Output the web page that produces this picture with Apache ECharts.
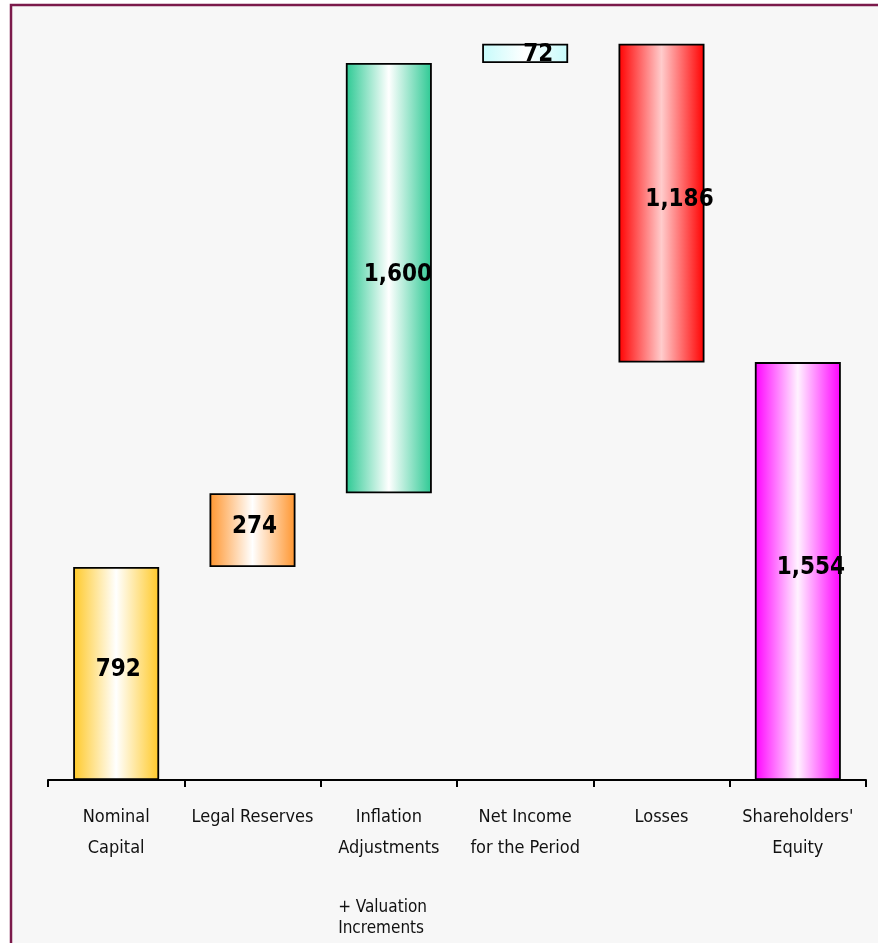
<!DOCTYPE html>
<html>
<head>
<meta charset="utf-8">
<script src="https://cdn.jsdelivr.net/npm/echarts@6/dist/echarts.min.js"></script>
<style>
  html, body { margin: 0; padding: 0; background: #ffffff; }
  #chart { width: 878px; height: 943px; }
</style>
</head>
<body>
<div id="chart"></div>
<script>
// Equity build-up: each step floats on the running total
const categories = ['Nominal\nCapital', 'Legal Reserves', 'Inflation\nAdjustments', 'Net Income\nfor the Period', 'Losses', "Shareholders'\nEquity"];
const categoryNotes = ['', '', '+ Valuation\nIncrements', '', '', ''];
const amounts = [792, 274, 1600, 72, 1186, 1554];
const stepKinds = ['total', 'increase', 'increase', 'increase', 'decrease', 'total'];

// Invisible base under each floating bar
const bases = [];
let running = 0;
amounts.forEach((v, i) => {
  if (stepKinds[i] === 'total') { bases.push(0); running = v; }
  else if (stepKinds[i] === 'increase') { bases.push(running); running += v; }
  else { running -= v; bases.push(running); }
});

// Fill look per bar: edge colour -> centre colour -> edge colour
const barPalette = [
  ['#ffc928', '#ffffff'],
  ['#ff952e', '#ffffff'],
  ['#2cc993', '#ffffff'],
  ['#c6fbfb', '#ffffff'],
  ['#ff0000', '#ffcccc'],
  ['#ff00ff', '#fff2ff']
];
const labelNudge = [[2, -4], [2, -3], [9, -3], [13, 1], [18, -3], [13, -3]];

const chart = echarts.init(document.getElementById('chart'), null, { renderer: 'canvas' });

const fillFor = (edge, mid) => new echarts.graphic.LinearGradient(0, 0, 1, 0, [
  { offset: 0, color: edge },
  { offset: 0.5, color: mid },
  { offset: 1, color: edge }
]);

const labelFont = '"Liberation Sans Narrow", "DejaVu Sans Condensed", "Noto Sans", sans-serif';

chart.setOption({
  backgroundColor: '#ffffff',
  animation: false,
  graphic: [{
    type: 'rect',
    z: -10,
    silent: true,
    shape: { x: 11, y: 5, width: 900, height: 980 },
    style: { fill: '#f7f7f7', stroke: '#7b1a4b', lineWidth: 2.5 }
  }],
  grid: { left: 48, right: 12, top: 27, bottom: 163 },
  xAxis: {
    type: 'category',
    data: categories,
    axisLine: { lineStyle: { color: '#000', width: 2 } },
    axisTick: { show: true, length: 7, lineStyle: { color: '#000', width: 2 } },
    axisLabel: {
      interval: 0,
      margin: 22,
      formatter: (value, idx) => {
        let s = value.split('\n').map(l => '{a|' + l + '}').join('\n');
        const note = categoryNotes[idx];
        if (note) {
          s += '\n{gap| }\n' + note.split('\n').map(l => '{b|' + l + '}').join('\n');
        }
        return s;
      },
      rich: {
        a: { fontFamily: labelFont, fontSize: 18, color: '#111', lineHeight: 31, align: 'center' },
        gap: { fontSize: 10, lineHeight: 33 },
        b: { fontFamily: labelFont, fontSize: 17, color: '#111', lineHeight: 21, align: 'left' }
      }
    }
  },
  yAxis: {
    type: 'value',
    min: 0,
    max: 2800,
    show: false,
    splitLine: { show: false }
  },
  series: [
    {
      type: 'bar',
      stack: 'steps',
      silent: true,
      barWidth: 86,
      itemStyle: { color: 'transparent' },
      data: bases
    },
    {
      type: 'bar',
      stack: 'steps',
      barWidth: 86,
      data: amounts.map((v, i) => ({
        value: v,
        itemStyle: {
          color: fillFor(barPalette[i][0], barPalette[i][1]),
          borderColor: '#000',
          borderWidth: 1.8
        },
        label: { offset: labelNudge[i] }
      })),
      label: {
        show: true,
        position: 'inside',
        color: '#000',
        fontFamily: '"DejaVu Sans Condensed", "DejaVu Sans", sans-serif',
        fontWeight: 'bold',
        fontSize: 24,
        formatter: p => p.value.toLocaleString('en-US')
      }
    }
  ]
});
</script>
</body>
</html>
